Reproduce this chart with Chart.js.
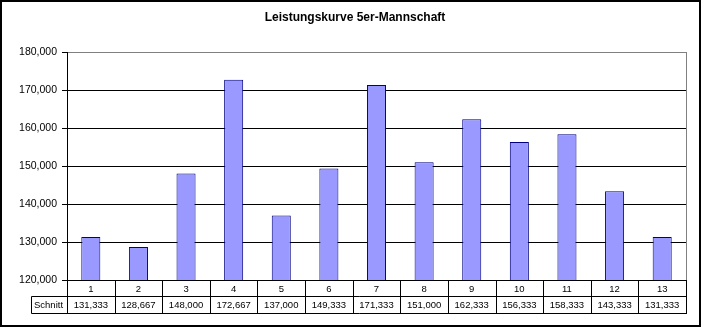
<!DOCTYPE html>
<html>
<head>
<meta charset="utf-8">
<script src="https://cdn.jsdelivr.net/npm/chart.js@4/dist/chart.umd.min.js"></script>
<style>
html,body{margin:0;padding:0;background:#fff;}
#wrap{width:703px;height:328px;position:relative;}
</style>
</head>
<body>
<div id="wrap"><canvas id="c" width="703" height="328"></canvas></div>
<script>
const chartTitle = "Leistungskurve 5er-Mannschaft";
const categories = ["1","2","3","4","5","6","7","8","9","10","11","12","13"];
const seriesName = "Schnitt";
const schnitt = [131.333,128.667,148.000,172.667,137.000,149.333,171.333,151.000,162.333,156.333,158.333,143.333,131.333];
const yMin = 120, yMax = 180, yStep = 10;

const FONT = "'Liberation Sans', Arial, sans-serif";
const fmt = v => v.toFixed(3).replace('.', ',');

const decor = {
  id: 'decor',
  afterDraw(chart) {
    const ctx = chart.ctx;
    const a = chart.chartArea;
    const xs = chart.scales.x;
    const n = categories.length;
    const colW = (a.right - a.left) / n;
    ctx.save();
    // title
    ctx.fillStyle = '#000';
    ctx.font = 'bold 12px ' + FONT;
    ctx.textAlign = 'center';
    ctx.textBaseline = 'middle';
    ctx.fillText(chartTitle, 355, 18);
    // plot right border (gray)
    ctx.strokeStyle = '#808080';
    ctx.lineWidth = 1;
    ctx.beginPath();
    ctx.moveTo(Math.round(a.right) + 0.5, a.top);
    ctx.lineTo(Math.round(a.right) + 0.5, a.bottom);
    ctx.stroke();
    // data table
    const y0 = Math.round(a.bottom), y1 = y0 + 16, y2 = y0 + 33;
    const leftLab = 31;
    ctx.strokeStyle = '#000';
    ctx.beginPath();
    ctx.moveTo(Math.round(a.left) - 0.5, y0 + 0.5); ctx.lineTo(Math.round(a.right) + 1, y0 + 0.5);
    ctx.moveTo(leftLab + 0.5, y1 + 0.5); ctx.lineTo(Math.round(a.right) + 1, y1 + 0.5);
    ctx.moveTo(leftLab + 0.5, y2 + 0.5); ctx.lineTo(Math.round(a.right) + 1, y2 + 0.5);
    ctx.moveTo(leftLab + 0.5, y1 + 0.5); ctx.lineTo(leftLab + 0.5, y2 + 0.5);
    for (let i = 0; i <= n; i++) {
      const x = Math.round(a.left + i * colW) + 0.5;
      ctx.moveTo(x, y0); ctx.lineTo(x, y2 + 0.5);
    }
    ctx.stroke();
    ctx.font = '9.5px ' + FONT;
    ctx.textAlign = 'center';
    ctx.textBaseline = 'middle';
    ctx.fillStyle = '#000';
    categories.forEach((c, i) => {
      const cx = xs.getPixelForValue(i);
      ctx.fillText(c, cx, (y0 + y1) / 2 + 1);
      ctx.fillText(fmt(schnitt[i]), cx, (y1 + y2) / 2 + 1);
    });
    ctx.textAlign = 'left';
    ctx.fillText(seriesName, leftLab + 3, (y1 + y2) / 2 + 1);
    // outer border
    ctx.lineWidth = 2;
    ctx.strokeStyle = '#000';
    ctx.strokeRect(1, 1, 699, 325);
    ctx.restore();
  }
};

new Chart(document.getElementById('c'), {
  type: 'bar',
  data: {
    labels: categories,
    datasets: [{
      label: seriesName,
      data: schnitt,
      backgroundColor: '#9999ff',
      borderColor: '#000080',
      borderWidth: 1,
      categoryPercentage: 1.0,
      barPercentage: 0.4
    }]
  },
  options: {
    responsive: false,
    animation: false,
    devicePixelRatio: 1,
    layout: { padding: { left: 0, top: 52, right: 17, bottom: 48 } },
    plugins: { legend: { display: false }, title: { display: false }, tooltip: { enabled: false } },
    scales: {
      x: { display: false, offset: true, grid: { display: false } },
      y: {
        min: yMin, max: yMax,
        afterFit: s => { s.width = 67; },
        border: { display: true, color: '#000', width: 1 },
        grid: {
          color: c => (c.tick && c.tick.value === yMax) ? '#808080' : '#000',
          tickColor: '#000',
          tickLength: 5,
          lineWidth: 1
        },
        ticks: {
          stepSize: yStep,
          padding: 5,
          color: '#000',
          font: { family: FONT, size: 10.5 },
          callback: v => fmt(v)
        }
      }
    }
  },
  plugins: [decor]
});
</script>
</body>
</html>
